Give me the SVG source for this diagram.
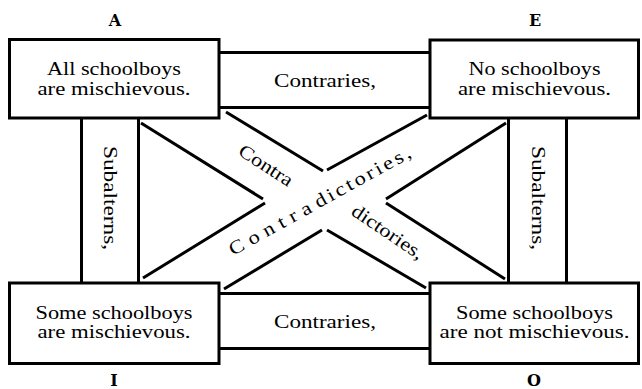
<svg xmlns="http://www.w3.org/2000/svg" width="642" height="389" viewBox="0 0 642 389">
<style>
.box{fill:#fff;stroke:#000;stroke-width:3}
.ln{stroke:#000;stroke-width:3;fill:none}
.t{font-family:"Liberation Serif","Times New Roman",serif;font-size:19px;fill:#000}
.c{text-anchor:middle}
.lab{font-family:"DejaVu Serif","Liberation Serif",serif;font-size:16px;font-weight:bold;text-anchor:middle;fill:#000}
</style>
<rect width="642" height="389" fill="#fff"/>
<g id="connectors">
  <g id="contraries-top">
    <line class="ln" x1="219" y1="52.5" x2="430" y2="52.5"/>
    <line class="ln" x1="219" y1="107.5" x2="430" y2="107.5"/>
    <text class="t c" x="325" y="87" textLength="102" lengthAdjust="spacingAndGlyphs">Contraries,</text>
  </g>
  <g id="contraries-bottom">
    <line class="ln" x1="219" y1="293.5" x2="430" y2="293.5"/>
    <line class="ln" x1="219" y1="348.5" x2="430" y2="348.5"/>
    <text class="t c" x="325" y="328" textLength="102" lengthAdjust="spacingAndGlyphs">Contraries,</text>
  </g>
  <g id="subalterns-left">
    <line class="ln" x1="81.5" y1="118" x2="81.5" y2="283"/>
    <line class="ln" x1="138.5" y1="118" x2="138.5" y2="283"/>
    <text class="t c" transform="translate(103.5,198) rotate(90)" textLength="104" lengthAdjust="spacingAndGlyphs">Subalterns,</text>
  </g>
  <g id="subalterns-right">
    <line class="ln" x1="508.5" y1="118" x2="508.5" y2="283"/>
    <line class="ln" x1="566.5" y1="118" x2="566.5" y2="283"/>
    <text class="t c" transform="translate(531.5,198) rotate(90)" textLength="104" lengthAdjust="spacingAndGlyphs">Subalterns,</text>
  </g>
  <g id="contradictories">
    <line class="ln" x1="226" y1="112" x2="323" y2="171"/>
    <line class="ln" x1="327" y1="170" x2="427" y2="115"/>
    <line class="ln" x1="224" y1="289" x2="322" y2="230"/>
    <line class="ln" x1="327" y1="230" x2="426" y2="288"/>
    <line class="ln" x1="141" y1="123" x2="263" y2="199"/>
    <line class="ln" x1="265" y1="203" x2="143" y2="278"/>
    <line class="ln" x1="506" y1="123" x2="386" y2="199"/>
    <line class="ln" x1="386" y1="203" x2="505" y2="279"/>
    <text class="t" transform="translate(237,154) rotate(33) scale(1.18,1)">Contra</text>
    <text class="t" transform="translate(350,214) rotate(34) scale(1.18,1)">dictories,</text>
    <text class="t" transform="translate(233,256) rotate(-29) scale(1.18,1)"><tspan letter-spacing="5.2">Contra</tspan><tspan letter-spacing="2.3">dictories,</tspan></text>
  </g>
</g>
<g id="node-A">
  <rect class="box" x="9.5" y="39.5" width="209.5" height="78.5"/>
  <text class="t c" x="114" y="75" textLength="134" lengthAdjust="spacingAndGlyphs">All schoolboys</text>
  <text class="t c" x="114" y="95" textLength="153" lengthAdjust="spacingAndGlyphs">are mischievous.</text>
  <text class="lab" x="115" y="26">A</text>
</g>
<g id="node-E">
  <rect class="box" x="430" y="40" width="208.5" height="78"/>
  <text class="t c" x="534.5" y="75" textLength="132" lengthAdjust="spacingAndGlyphs">No schoolboys</text>
  <text class="t c" x="534.5" y="95" textLength="153" lengthAdjust="spacingAndGlyphs">are mischievous.</text>
  <text class="lab" x="535" y="26">E</text>
</g>
<g id="node-I">
  <rect class="box" x="9.5" y="283" width="209.5" height="80.5"/>
  <text class="t c" x="114" y="319" textLength="157" lengthAdjust="spacingAndGlyphs">Some schoolboys</text>
  <text class="t c" x="114" y="338" textLength="153" lengthAdjust="spacingAndGlyphs">are mischievous.</text>
  <text class="lab" x="114" y="386">I</text>
</g>
<g id="node-O">
  <rect class="box" x="430" y="283" width="208.5" height="80.5"/>
  <text class="t c" x="534.5" y="319" textLength="157" lengthAdjust="spacingAndGlyphs">Some schoolboys</text>
  <text class="t c" x="534.5" y="338" textLength="190" lengthAdjust="spacingAndGlyphs">are not mischievous.</text>
  <text class="lab" x="534" y="386">O</text>
</g>
</svg>
